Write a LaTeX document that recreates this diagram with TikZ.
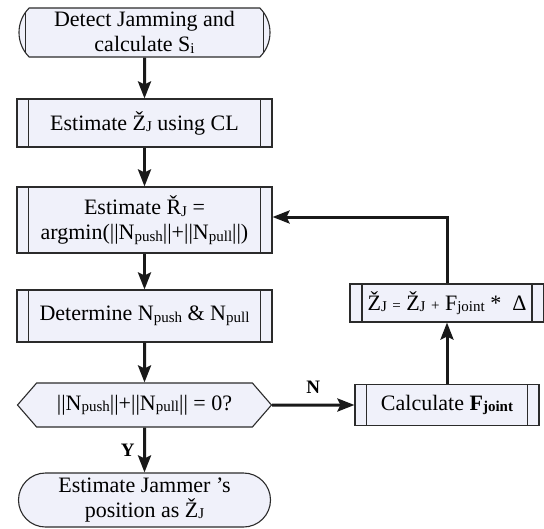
\documentclass[tikz,border=0pt]{standalone}
\usepackage{fontspec}
\setmainfont{Liberation Serif}
\usetikzlibrary{shapes.misc,shapes.symbols,arrows.meta,positioning}

\definecolor{boxfill}{HTML}{F0F1FA}
\definecolor{boxline}{HTML}{2B2B2B}
% small lowered subscript as in the figure
\newcommand{\sbs}[1]{\raisebox{-1.5pt}{\fontsize{15}{15}\selectfont #1}}

\tikzset{
  base/.style={draw=boxline, fill=boxfill, line width=1.1pt, align=center,
    inner sep=2pt, font=\fontsize{22}{25}\selectfont},
  sidebars/.style={path picture={
      \draw[boxline, line width=1.1pt]
        ([xshift=#1]path picture bounding box.north west) -- ([xshift=#1]path picture bounding box.south west)
        ([xshift=-#1]path picture bounding box.north east) -- ([xshift=-#1]path picture bounding box.south east);}},
  procbox/.style={base, rectangle, sidebars=11.5pt},
  termbox/.style={base, rounded rectangle},
  decbox/.style={base, signal, signal to=west and east, signal pointer angle=98},
  flow/.style={line width=3pt, draw=black!90, -{Stealth[length=17pt,width=13pt,inset=3pt]}},
  lbl/.style={font=\bfseries\fontsize{19}{19}\selectfont}
}

\begin{document}
\begin{tikzpicture}[x=1pt, y=-1pt]
  \useasboundingbox (0,0) rectangle (544,528);

  % main column
  \node[termbox, rounded rectangle arc length=90, sidebars=10pt,
        minimum width=255pt, minimum height=49pt] (detect) at (144.5,32.5)
        {Detect Jamming and\\calculate S\sbs{i}};
  \node[procbox, minimum width=255pt, minimum height=48pt] (estZ) at (144.5,123)
        {Estimate Ž\sbs{J} using CL};
  \node[procbox, minimum width=255pt, minimum height=66pt] (estR) at (144.5,220)
        {Estimate Ř\sbs{J} =\\argmin(||N\sbs{push}||+||N\sbs{pull}||)};
  \node[procbox, minimum width=255pt, minimum height=52pt] (determine) at (144.5,316)
        {Determine N\sbs{push} \& N\sbs{pull}};
  \node[decbox, minimum width=254pt, minimum height=44pt] (check) at (144.5,405)
        {||N\sbs{push}||+||N\sbs{pull}|| = 0?};
  \node[termbox, minimum width=256pt, minimum height=54pt] (final) at (144.5,500)
        {Estimate Jammer ’s\\position as Ž\sbs{J}};

  % right column
  \node[procbox, sidebars=12pt, minimum width=194pt, minimum height=38pt] (update) at (447,303)
        {Ž\sbs{J} {\fontsize{15}{15}\selectfont =} Ž\sbs{J} {\fontsize{15}{15}\selectfont +} F\sbs{joint} *\ \ Δ};
  \node[procbox, minimum width=184pt, minimum height=41pt] (calc) at (447,405)
        {Calculate \textbf{F\sbs{joint}}};

  \draw[flow] (detect) -- (estZ);
  \draw[flow] (estZ) -- (estR);
  \draw[flow] (estR) -- (determine);
  \draw[flow] (determine) -- (check);
  \draw[flow] (check) -- node[lbl, left=5pt] {Y} (final);
  \draw[flow] (check) -- node[lbl, above=7pt] {N} (calc);
  \draw[flow] (calc) -- (update);
  \draw[flow] (update.north) |- ([yshift=3pt]estR.east);
\end{tikzpicture}
\end{document}
